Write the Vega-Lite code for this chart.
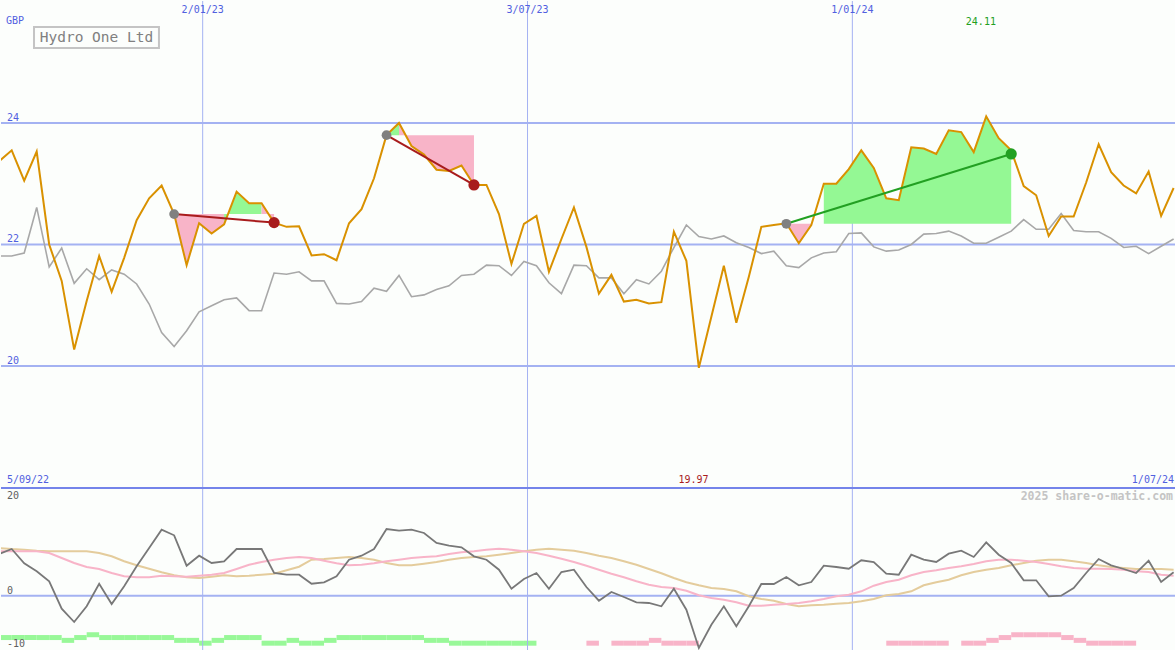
{
  "$schema": "https://vega.github.io/schema/vega-lite/v6.json",
  "padding": 0,
  "spacing": 0,
  "bounds": "flush",
  "background": "#fcfefc",
  "config": {"view": {"stroke": null}, "text": {"font": "DejaVu Sans Mono", "fontSize": 10}},
  "datasets": {
    "w": [
      {"d":"2022-09-10","p":23.37,"c":21.81,"m":8.34,"s":8.88,"l":9.54},
      {"d":"2022-09-17","p":23.55,"c":21.81,"m":9.34,"s":8.88,"l":9.34},
      {"d":"2022-09-24","p":23.05,"c":21.86,"m":6.48,"s":8.88,"l":9.2},
      {"d":"2022-10-01","p":23.53,"c":22.61,"m":4.88,"s":8.88,"l":9.0},
      {"d":"2022-10-08","p":22.00,"c":21.63,"m":2.88,"s":8.54,"l":8.88},
      {"d":"2022-10-15","p":21.40,"c":21.94,"m":-2.6,"s":7.54,"l":8.88},
      {"d":"2022-10-22","p":20.27,"c":21.36,"m":-5.26,"s":6.54,"l":8.88},
      {"d":"2022-10-29","p":21.07,"c":21.60,"m":-2.12,"s":5.74,"l":8.88},
      {"d":"2022-11-05","p":21.81,"c":21.42,"m":2.4,"s":5.34,"l":8.54},
      {"d":"2022-11-12","p":21.22,"c":21.58,"m":-1.66,"s":4.54,"l":7.88},
      {"d":"2022-11-19","p":21.78,"c":21.51,"m":1.88,"s":3.88,"l":6.88},
      {"d":"2022-11-26","p":22.40,"c":21.35,"m":5.88,"s":3.68,"l":6.08},
      {"d":"2022-12-03","p":22.76,"c":21.02,"m":9.54,"s":3.68,"l":5.4},
      {"d":"2022-12-10","p":22.97,"c":20.55,"m":13.2,"s":4.0,"l":4.68},
      {"d":"2022-12-17","p":22.50,"c":20.32,"m":12.08,"s":3.88,"l":4.08},
      {"d":"2022-12-24","p":21.66,"c":20.58,"m":6.0,"s":3.8,"l":3.68},
      {"d":"2022-12-31","p":22.35,"c":20.89,"m":8.0,"s":4.0,"l":3.54},
      {"d":"2023-01-07","p":22.18,"c":20.99,"m":6.54,"s":4.2,"l":3.8},
      {"d":"2023-01-14","p":22.33,"c":21.09,"m":6.88,"s":4.54,"l":4.08},
      {"d":"2023-01-21","p":22.87,"c":21.12,"m":9.34,"s":5.34,"l":3.88},
      {"d":"2023-01-28","p":22.68,"c":20.91,"m":9.34,"s":6.2,"l":4.0},
      {"d":"2023-02-04","p":22.68,"c":20.91,"m":9.34,"s":6.74,"l":4.2},
      {"d":"2023-02-11","p":22.36,"c":21.53,"m":4.54,"s":7.2,"l":4.4},
      {"d":"2023-02-18","p":22.29,"c":21.51,"m":4.2,"s":7.54,"l":5.08},
      {"d":"2023-02-25","p":22.30,"c":21.55,"m":4.2,"s":7.74,"l":5.8},
      {"d":"2023-03-04","p":21.82,"c":21.40,"m":2.4,"s":7.54,"l":7.2},
      {"d":"2023-03-11","p":21.84,"c":21.40,"m":2.68,"s":7.0,"l":7.34},
      {"d":"2023-03-18","p":21.74,"c":21.03,"m":3.88,"s":6.48,"l":7.54},
      {"d":"2023-03-25","p":22.35,"c":21.02,"m":7.2,"s":6.08,"l":7.74},
      {"d":"2023-04-01","p":22.58,"c":21.06,"m":8.0,"s":6.2,"l":7.54},
      {"d":"2023-04-08","p":23.09,"c":21.28,"m":9.34,"s":6.48,"l":7.2},
      {"d":"2023-04-15","p":23.80,"c":21.23,"m":13.34,"s":6.88,"l":6.54},
      {"d":"2023-04-22","p":24.00,"c":21.49,"m":13.0,"s":7.2,"l":6.08},
      {"d":"2023-04-29","p":23.62,"c":21.14,"m":13.2,"s":7.54,"l":6.08},
      {"d":"2023-05-06","p":23.48,"c":21.17,"m":12.54,"s":7.74,"l":6.4},
      {"d":"2023-05-13","p":23.23,"c":21.26,"m":10.54,"s":7.88,"l":6.74},
      {"d":"2023-05-20","p":23.21,"c":21.32,"m":10.0,"s":8.34,"l":7.2},
      {"d":"2023-05-27","p":23.30,"c":21.49,"m":9.68,"s":8.68,"l":7.54},
      {"d":"2023-06-03","p":22.98,"c":21.51,"m":7.88,"s":8.88,"l":7.74},
      {"d":"2023-06-10","p":22.98,"c":21.66,"m":7.2,"s":9.2,"l":7.88},
      {"d":"2023-06-17","p":22.50,"c":21.65,"m":5.2,"s":9.4,"l":8.2},
      {"d":"2023-06-24","p":21.68,"c":21.49,"m":1.4,"s":9.2,"l":8.54},
      {"d":"2023-07-01","p":22.34,"c":21.72,"m":3.34,"s":8.88,"l":8.88},
      {"d":"2023-07-08","p":22.47,"c":21.65,"m":4.54,"s":8.54,"l":9.2},
      {"d":"2023-07-15","p":21.55,"c":21.37,"m":1.4,"s":8.0,"l":9.4},
      {"d":"2023-07-22","p":22.09,"c":21.19,"m":4.74,"s":7.4,"l":9.2},
      {"d":"2023-07-29","p":22.61,"c":21.66,"m":5.2,"s":6.74,"l":9.0},
      {"d":"2023-08-05","p":21.96,"c":21.65,"m":1.74,"s":6.0,"l":8.54},
      {"d":"2023-08-12","p":21.19,"c":21.45,"m":-1.0,"s":5.2,"l":8.0},
      {"d":"2023-08-19","p":21.50,"c":21.45,"m":0.74,"s":4.4,"l":7.54},
      {"d":"2023-08-26","p":21.06,"c":21.19,"m":-0.26,"s":3.68,"l":6.88},
      {"d":"2023-09-02","p":21.09,"c":21.42,"m":-1.32,"s":2.88,"l":6.2},
      {"d":"2023-09-09","p":21.03,"c":21.35,"m":-1.46,"s":2.2,"l":5.34},
      {"d":"2023-09-16","p":21.05,"c":21.56,"m":-2.12,"s":1.74,"l":4.48},
      {"d":"2023-09-23","p":22.21,"c":21.95,"m":1.4,"s":1.54,"l":3.54},
      {"d":"2023-09-30","p":21.73,"c":22.32,"m":-2.8,"s":1.0,"l":2.68},
      {"d":"2023-10-07","p":19.97,"c":22.13,"m":-10.46,"s":0.08,"l":2.08},
      {"d":"2023-10-14","p":20.81,"c":22.09,"m":-5.8,"s":-0.46,"l":1.54},
      {"d":"2023-10-21","p":21.65,"c":22.14,"m":-2.12,"s":-0.8,"l":1.34},
      {"d":"2023-10-28","p":20.71,"c":22.03,"m":-6.12,"s":-1.32,"l":0.88},
      {"d":"2023-11-04","p":21.47,"c":21.95,"m":-2.12,"s":-2.0,"l":-0.12},
      {"d":"2023-11-11","p":22.29,"c":21.85,"m":2.34,"s":-2.0,"l":-0.66},
      {"d":"2023-11-18","p":22.32,"c":21.89,"m":2.34,"s":-1.8,"l":-1.0},
      {"d":"2023-11-25","p":22.35,"c":21.65,"m":3.74,"s":-1.66,"l":-1.66},
      {"d":"2023-12-02","p":22.02,"c":21.62,"m":2.08,"s":-1.46,"l":-2.12},
      {"d":"2023-12-09","p":22.32,"c":21.78,"m":2.74,"s":-1.12,"l":-1.92},
      {"d":"2023-12-16","p":23.00,"c":21.86,"m":6.0,"s":-0.66,"l":-1.8},
      {"d":"2023-12-23","p":23.00,"c":21.88,"m":5.74,"s":-0.12,"l":-1.6},
      {"d":"2023-12-30","p":23.24,"c":22.18,"m":5.4,"s":0.2,"l":-1.46},
      {"d":"2024-01-06","p":23.55,"c":22.19,"m":7.08,"s":0.88,"l":-1.12},
      {"d":"2024-01-13","p":23.26,"c":21.96,"m":6.74,"s":2.0,"l":-0.66},
      {"d":"2024-01-20","p":22.76,"c":21.89,"m":4.4,"s":2.74,"l":0.08},
      {"d":"2024-01-27","p":22.73,"c":21.91,"m":4.2,"s":3.2,"l":0.34},
      {"d":"2024-02-03","p":23.60,"c":22.00,"m":8.2,"s":4.08,"l":0.88},
      {"d":"2024-02-10","p":23.58,"c":22.17,"m":7.2,"s":4.74,"l":2.08},
      {"d":"2024-02-17","p":23.49,"c":22.18,"m":6.74,"s":5.08,"l":2.68},
      {"d":"2024-02-24","p":23.88,"c":22.22,"m":8.4,"s":5.54,"l":3.2},
      {"d":"2024-03-02","p":23.85,"c":22.14,"m":9.0,"s":5.88,"l":4.08},
      {"d":"2024-03-09","p":23.52,"c":22.02,"m":7.74,"s":6.34,"l":4.74},
      {"d":"2024-03-16","p":24.11,"c":22.02,"m":10.68,"s":6.88,"l":5.2},
      {"d":"2024-03-23","p":23.75,"c":22.12,"m":8.2,"s":7.2,"l":5.54},
      {"d":"2024-03-30","p":23.55,"c":22.22,"m":6.54,"s":7.2,"l":6.08},
      {"d":"2024-04-06","p":22.96,"c":22.41,"m":3.08,"s":7.0,"l":6.54},
      {"d":"2024-04-13","p":22.81,"c":22.25,"m":3.08,"s":6.74,"l":7.0},
      {"d":"2024-04-20","p":22.14,"c":22.25,"m":-0.12,"s":6.34,"l":7.2},
      {"d":"2024-04-27","p":22.46,"c":22.51,"m":0.0,"s":5.88,"l":7.2},
      {"d":"2024-05-04","p":22.46,"c":22.23,"m":1.54,"s":5.54,"l":6.88},
      {"d":"2024-05-11","p":23.02,"c":22.21,"m":4.54,"s":5.4,"l":6.54},
      {"d":"2024-05-18","p":23.65,"c":22.21,"m":7.34,"s":5.4,"l":6.08},
      {"d":"2024-05-25","p":23.19,"c":22.10,"m":6.08,"s":5.34,"l":5.74},
      {"d":"2024-06-01","p":22.97,"c":21.95,"m":5.34,"s":5.2,"l":5.54},
      {"d":"2024-06-08","p":22.84,"c":21.97,"m":4.54,"s":4.88,"l":5.34},
      {"d":"2024-06-15","p":23.20,"c":21.85,"m":7.0,"s":4.74,"l":5.34},
      {"d":"2024-06-22","p":22.47,"c":21.97,"m":2.74,"s":4.2,"l":5.34},
      {"d":"2024-06-29","p":22.93,"c":22.09,"m":4.68,"s":4.0,"l":5.2}
    ],
    "h": [
      {"d":"2022-09-10","e":"2022-09-17","a":3,"dir":"up"},
      {"d":"2022-09-17","e":"2022-09-24","a":3,"dir":"up"},
      {"d":"2022-09-24","e":"2022-10-01","a":3,"dir":"up"},
      {"d":"2022-10-01","e":"2022-10-08","a":3,"dir":"up"},
      {"d":"2022-10-08","e":"2022-10-15","a":3,"dir":"up"},
      {"d":"2022-10-15","e":"2022-10-22","a":2,"dir":"up"},
      {"d":"2022-10-22","e":"2022-10-29","a":3,"dir":"up"},
      {"d":"2022-10-29","e":"2022-11-05","a":4,"dir":"up"},
      {"d":"2022-11-05","e":"2022-11-12","a":3,"dir":"up"},
      {"d":"2022-11-12","e":"2022-11-19","a":3,"dir":"up"},
      {"d":"2022-11-19","e":"2022-11-26","a":3,"dir":"up"},
      {"d":"2022-11-26","e":"2022-12-03","a":3,"dir":"up"},
      {"d":"2022-12-03","e":"2022-12-10","a":3,"dir":"up"},
      {"d":"2022-12-10","e":"2022-12-17","a":3,"dir":"up"},
      {"d":"2022-12-17","e":"2022-12-24","a":2,"dir":"up"},
      {"d":"2022-12-24","e":"2022-12-31","a":2,"dir":"up"},
      {"d":"2022-12-31","e":"2023-01-07","a":1,"dir":"up"},
      {"d":"2023-01-07","e":"2023-01-14","a":2,"dir":"up"},
      {"d":"2023-01-14","e":"2023-01-21","a":3,"dir":"up"},
      {"d":"2023-01-21","e":"2023-01-28","a":3,"dir":"up"},
      {"d":"2023-01-28","e":"2023-02-04","a":3,"dir":"up"},
      {"d":"2023-02-04","e":"2023-02-11","a":1,"dir":"up"},
      {"d":"2023-02-11","e":"2023-02-18","a":1,"dir":"up"},
      {"d":"2023-02-18","e":"2023-02-25","a":2,"dir":"up"},
      {"d":"2023-02-25","e":"2023-03-04","a":1,"dir":"up"},
      {"d":"2023-03-04","e":"2023-03-11","a":1,"dir":"up"},
      {"d":"2023-03-11","e":"2023-03-18","a":2,"dir":"up"},
      {"d":"2023-03-18","e":"2023-03-25","a":3,"dir":"up"},
      {"d":"2023-03-25","e":"2023-04-01","a":3,"dir":"up"},
      {"d":"2023-04-01","e":"2023-04-08","a":3,"dir":"up"},
      {"d":"2023-04-08","e":"2023-04-15","a":3,"dir":"up"},
      {"d":"2023-04-15","e":"2023-04-22","a":3,"dir":"up"},
      {"d":"2023-04-22","e":"2023-04-29","a":3,"dir":"up"},
      {"d":"2023-04-29","e":"2023-05-06","a":3,"dir":"up"},
      {"d":"2023-05-06","e":"2023-05-13","a":2,"dir":"up"},
      {"d":"2023-05-13","e":"2023-05-20","a":2,"dir":"up"},
      {"d":"2023-05-20","e":"2023-05-27","a":1,"dir":"up"},
      {"d":"2023-05-27","e":"2023-06-03","a":1,"dir":"up"},
      {"d":"2023-06-03","e":"2023-06-10","a":1,"dir":"up"},
      {"d":"2023-06-10","e":"2023-06-17","a":1,"dir":"up"},
      {"d":"2023-06-17","e":"2023-06-24","a":1,"dir":"up"},
      {"d":"2023-06-24","e":"2023-07-01","a":1,"dir":"up"},
      {"d":"2023-07-01","e":"2023-07-08","a":1,"dir":"up"},
      {"d":"2023-08-05","e":"2023-08-12","a":1,"dir":"dn"},
      {"d":"2023-08-19","e":"2023-08-26","a":1,"dir":"dn"},
      {"d":"2023-08-26","e":"2023-09-02","a":1,"dir":"dn"},
      {"d":"2023-09-02","e":"2023-09-09","a":1,"dir":"dn"},
      {"d":"2023-09-09","e":"2023-09-16","a":2,"dir":"dn"},
      {"d":"2023-09-16","e":"2023-09-23","a":1,"dir":"dn"},
      {"d":"2023-09-23","e":"2023-09-30","a":1,"dir":"dn"},
      {"d":"2023-09-30","e":"2023-10-07","a":1,"dir":"dn"},
      {"d":"2024-01-20","e":"2024-01-27","a":1,"dir":"dn"},
      {"d":"2024-01-27","e":"2024-02-03","a":1,"dir":"dn"},
      {"d":"2024-02-03","e":"2024-02-10","a":1,"dir":"dn"},
      {"d":"2024-02-10","e":"2024-02-17","a":1,"dir":"dn"},
      {"d":"2024-02-17","e":"2024-02-24","a":1,"dir":"dn"},
      {"d":"2024-03-02","e":"2024-03-09","a":1,"dir":"dn"},
      {"d":"2024-03-09","e":"2024-03-16","a":1,"dir":"dn"},
      {"d":"2024-03-16","e":"2024-03-23","a":2,"dir":"dn"},
      {"d":"2024-03-23","e":"2024-03-30","a":3,"dir":"dn"},
      {"d":"2024-03-30","e":"2024-04-06","a":4,"dir":"dn"},
      {"d":"2024-04-06","e":"2024-04-13","a":4,"dir":"dn"},
      {"d":"2024-04-13","e":"2024-04-20","a":4,"dir":"dn"},
      {"d":"2024-04-20","e":"2024-04-27","a":4,"dir":"dn"},
      {"d":"2024-04-27","e":"2024-05-04","a":3,"dir":"dn"},
      {"d":"2024-05-04","e":"2024-05-11","a":2,"dir":"dn"},
      {"d":"2024-05-11","e":"2024-05-18","a":1,"dir":"dn"},
      {"d":"2024-05-18","e":"2024-05-25","a":1,"dir":"dn"},
      {"d":"2024-05-25","e":"2024-06-01","a":1,"dir":"dn"},
      {"d":"2024-06-01","e":"2024-06-08","a":1,"dir":"dn"}
    ],
    "f": [
      {"g":"S1","c":"dn","d":"2022-12-17","p":22.50,"e":22.50},
      {"g":"S1","c":"dn","d":"2022-12-24","p":21.66,"e":22.50},
      {"g":"S1","c":"dn","d":"2022-12-31","p":22.35,"e":22.50},
      {"g":"S1","c":"dn","d":"2023-01-07","p":22.18,"e":22.50},
      {"g":"S1","c":"dn","d":"2023-01-14","p":22.33,"e":22.50},
      {"g":"S2","c":"up","d":"2023-01-14","p":22.33,"e":22.50},
      {"g":"S2","c":"up","d":"2023-01-21","p":22.87,"e":22.50},
      {"g":"S2","c":"up","d":"2023-01-28","p":22.68,"e":22.50},
      {"g":"S2","c":"up","d":"2023-02-04","p":22.68,"e":22.50},
      {"g":"S3","c":"dn","d":"2023-02-04","p":22.68,"e":22.50},
      {"g":"S3","c":"dn","d":"2023-02-11","p":22.36,"e":22.50},
      {"g":"S4","c":"up","d":"2023-04-15","p":23.80,"e":23.80},
      {"g":"S4","c":"up","d":"2023-04-22","p":24.00,"e":23.80},
      {"g":"S5","c":"dn","d":"2023-04-22","p":24.00,"e":23.80},
      {"g":"S5","c":"dn","d":"2023-04-29","p":23.62,"e":23.80},
      {"g":"S5","c":"dn","d":"2023-05-06","p":23.48,"e":23.80},
      {"g":"S5","c":"dn","d":"2023-05-13","p":23.23,"e":23.80},
      {"g":"S5","c":"dn","d":"2023-05-20","p":23.21,"e":23.80},
      {"g":"S5","c":"dn","d":"2023-05-27","p":23.30,"e":23.80},
      {"g":"S5","c":"dn","d":"2023-06-03","p":22.98,"e":23.80},
      {"g":"S6","c":"dn","d":"2023-11-25","p":22.35,"e":22.34},
      {"g":"S6","c":"dn","d":"2023-12-02","p":22.02,"e":22.34},
      {"g":"S6","c":"dn","d":"2023-12-09","p":22.32,"e":22.34},
      {"g":"S7","c":"up","d":"2023-12-16","p":23.00,"e":22.34},
      {"g":"S7","c":"up","d":"2023-12-23","p":23.00,"e":22.34},
      {"g":"S7","c":"up","d":"2023-12-30","p":23.24,"e":22.34},
      {"g":"S7","c":"up","d":"2024-01-06","p":23.55,"e":22.34},
      {"g":"S7","c":"up","d":"2024-01-13","p":23.26,"e":22.34},
      {"g":"S7","c":"up","d":"2024-01-20","p":22.76,"e":22.34},
      {"g":"S7","c":"up","d":"2024-01-27","p":22.73,"e":22.34},
      {"g":"S7","c":"up","d":"2024-02-03","p":23.60,"e":22.34},
      {"g":"S7","c":"up","d":"2024-02-10","p":23.58,"e":22.34},
      {"g":"S7","c":"up","d":"2024-02-17","p":23.49,"e":22.34},
      {"g":"S7","c":"up","d":"2024-02-24","p":23.88,"e":22.34},
      {"g":"S7","c":"up","d":"2024-03-02","p":23.85,"e":22.34},
      {"g":"S7","c":"up","d":"2024-03-09","p":23.52,"e":22.34},
      {"g":"S7","c":"up","d":"2024-03-16","p":24.11,"e":22.34},
      {"g":"S7","c":"up","d":"2024-03-23","p":23.75,"e":22.34},
      {"g":"S7","c":"up","d":"2024-03-30","p":23.55,"e":22.34}
    ],
    "t": [
      {"g":"T1","c":"loss","d":"2022-12-17","v":22.50},
      {"g":"T1","c":"loss","d":"2023-02-11","v":22.36},
      {"g":"T2","c":"loss","d":"2023-04-15","v":23.80},
      {"g":"T2","c":"loss","d":"2023-06-03","v":22.98},
      {"g":"T3","c":"win","d":"2023-11-25","v":22.34},
      {"g":"T3","c":"win","d":"2024-03-30","v":23.49}
    ],
    "vl": [
      {"d":"2023-01-02","t":"2/01/23"},
      {"d":"2023-07-03","t":"3/07/23"},
      {"d":"2024-01-01","t":"1/01/24"}
    ],
    "hl": [{"v":24,"t":"24"},{"v":22,"t":"22"},{"v":20,"t":"20"}],
    "one": [{}]
  },
  "vconcat": [
    {
      "width": 1175,
      "height": 487,
      "resolve": {"scale": {"color": "independent"}},
      "layer": [
        {
          "data": {"name": "vl"},
          "mark": {"type": "rule", "color": "#a4b2f2", "strokeWidth": 1},
          "encoding": {
            "x": {"field": "d", "type": "temporal", "axis": null,
                  "scale": {"type": "utc", "domain": [{"year": 2022, "month": 9, "date": 11, "utc": true}, {"year": 2024, "month": 6, "date": 30, "hours": 8, "utc": true}]}}
          }
        },
        {
          "data": {"name": "hl"},
          "mark": {"type": "rule", "color": "#a4b2f2", "strokeWidth": 2},
          "encoding": {
            "y": {"field": "v", "type": "quantitative", "axis": null,
                  "scale": {"domain": [17.991, 26.008], "nice": false, "zero": false}}
          }
        },
        {
          "data": {"name": "f"},
          "mark": {"type": "area", "opacity": 1, "interpolate": "linear", "clip": true},
          "encoding": {
            "x": {"field": "d", "type": "temporal"},
            "y": {"field": "p", "type": "quantitative"},
            "y2": {"field": "e"},
            "detail": {"field": "g"},
            "color": {"field": "c", "type": "nominal", "legend": null,
                      "scale": {"domain": ["up", "dn"], "range": ["#94f894", "#f8b4c8"]}}
          }
        },
        {
          "data": {"name": "w"},
          "mark": {"type": "line", "color": "#a8a8a8", "strokeWidth": 1.6, "clip": true},
          "encoding": {
            "x": {"field": "d", "type": "temporal"},
            "y": {"field": "c", "type": "quantitative"}
          }
        },
        {
          "data": {"name": "w"},
          "mark": {"type": "line", "color": "#d99100", "strokeWidth": 2, "clip": true},
          "encoding": {
            "x": {"field": "d", "type": "temporal"},
            "y": {"field": "p", "type": "quantitative"}
          }
        },
        {
          "data": {"name": "t"},
          "mark": {"type": "line", "strokeWidth": 2},
          "encoding": {
            "x": {"field": "d", "type": "temporal"},
            "y": {"field": "v", "type": "quantitative"},
            "detail": {"field": "g"},
            "color": {"field": "c", "type": "nominal", "legend": null,
                      "scale": {"domain": ["loss", "win"], "range": ["#a81c1c", "#22a022"]}}
          }
        },
        {
          "data": {"name": "t"},
          "transform": [{"window": [{"op": "row_number", "as": "rn"}], "groupby": ["g"]}, {"filter": "datum.rn == 1"}],
          "mark": {"type": "point", "filled": true, "opacity": 1, "size": 95, "color": "#808080"},
          "encoding": {
            "x": {"field": "d", "type": "temporal"},
            "y": {"field": "v", "type": "quantitative"}
          }
        },
        {
          "data": {"name": "t"},
          "transform": [{"window": [{"op": "row_number", "as": "rn"}], "groupby": ["g"]}, {"filter": "datum.rn == 2"}],
          "mark": {"type": "point", "filled": true, "opacity": 1, "size": 125},
          "encoding": {
            "x": {"field": "d", "type": "temporal"},
            "y": {"field": "v", "type": "quantitative"},
            "color": {"field": "c", "type": "nominal", "legend": null,
                      "scale": {"domain": ["loss", "win"], "range": ["#a81c1c", "#22a022"]}}
          }
        },
        {
          "data": {"name": "hl"},
          "mark": {"type": "text", "align": "left", "baseline": "alphabetic", "dx": 6, "dy": -2, "color": "#5060e0"},
          "encoding": {
            "x": {"datum": {"year": 2022, "month": 9, "date": 11, "utc": true}, "type": "temporal"},
            "y": {"field": "v", "type": "quantitative"},
            "text": {"field": "t"}
          }
        },
        {
          "data": {"name": "vl"},
          "mark": {"type": "text", "align": "center", "baseline": "middle", "color": "#5060e0"},
          "encoding": {
            "x": {"field": "d", "type": "temporal"},
            "y": {"datum": 25.86, "type": "quantitative"},
            "text": {"field": "t"}
          }
        },
        {
          "data": {"name": "one"},
          "mark": {"type": "text", "align": "left", "baseline": "middle", "dx": 5, "color": "#5060e0", "text": "GBP"},
          "encoding": {
            "x": {"datum": {"year": 2022, "month": 9, "date": 11, "utc": true}, "type": "temporal"},
            "y": {"datum": 25.68, "type": "quantitative"}
          }
        },
        {
          "data": {"name": "one"},
          "mark": {"type": "rect", "fill": null, "fillOpacity": 0, "stroke": "#c4c4c4", "strokeWidth": 2},
          "encoding": {
            "x": {"datum": {"year": 2022, "month": 9, "date": 29, "hours": 12, "utc": true}, "type": "temporal"},
            "x2": {"datum": {"year": 2022, "month": 12, "date": 8, "hours": 12, "utc": true}},
            "y": {"datum": 25.58, "type": "quantitative"},
            "y2": {"datum": 25.234}
          }
        },
        {
          "data": {"name": "one"},
          "mark": {"type": "text", "align": "center", "baseline": "middle", "fontSize": 14.5, "color": "#808080", "text": "Hydro One Ltd"},
          "encoding": {
            "x": {"datum": {"year": 2022, "month": 11, "date": 3, "hours": 12, "utc": true}, "type": "temporal"},
            "y": {"datum": 25.405, "type": "quantitative"}
          }
        },
        {
          "data": {"name": "one"},
          "mark": {"type": "text", "align": "center", "baseline": "middle", "color": "#22a022", "text": "24.11"},
          "encoding": {
            "x": {"datum": {"year": 2024, "month": 3, "date": 13, "utc": true}, "type": "temporal"},
            "y": {"datum": 25.657, "type": "quantitative"}
          }
        },
        {
          "data": {"name": "one"},
          "mark": {"type": "text", "align": "left", "baseline": "middle", "dx": 6, "color": "#5060e0", "text": "5/09/22"},
          "encoding": {
            "x": {"datum": {"year": 2022, "month": 9, "date": 11, "utc": true}, "type": "temporal"},
            "y": {"datum": 18.12, "type": "quantitative"}
          }
        },
        {
          "data": {"name": "one"},
          "mark": {"type": "text", "align": "center", "baseline": "middle", "color": "#a81c1c", "text": "19.97"},
          "encoding": {
            "x": {"datum": {"year": 2023, "month": 10, "date": 4, "utc": true}, "type": "temporal"},
            "y": {"datum": 18.12, "type": "quantitative"}
          }
        },
        {
          "data": {"name": "one"},
          "mark": {"type": "text", "align": "right", "baseline": "middle", "dx": -2, "color": "#5060e0", "text": "1/07/24"},
          "encoding": {
            "x": {"datum": {"year": 2024, "month": 6, "date": 30, "hours": 8, "utc": true}, "type": "temporal"},
            "y": {"datum": 18.12, "type": "quantitative"}
          }
        }
      ]
    },
    {
      "width": 1175,
      "height": 163,
      "resolve": {"scale": {"y": "independent", "color": "independent"}},
      "layer": [
        {
          "data": {"name": "h"},
          "mark": {"type": "bar", "clip": true},
          "encoding": {
            "x": {"field": "d", "type": "temporal", "axis": null,
                  "scale": {"type": "utc", "domain": [{"year": 2022, "month": 9, "date": 11, "utc": true}, {"year": 2024, "month": 6, "date": 30, "hours": 8, "utc": true}]}},
            "x2": {"field": "e"},
            "y": {"field": "a", "type": "quantitative", "axis": null, "scale": {"domain": [0, 54.33], "nice": false}},
            "color": {"field": "dir", "type": "nominal", "legend": null,
                      "scale": {"domain": ["up", "dn"], "range": ["#98f898", "#f8b4c8"]}}
          }
        },
        {
          "data": {"name": "vl"},
          "mark": {"type": "rule", "color": "#a4b2f2", "strokeWidth": 1},
          "encoding": {"x": {"field": "d", "type": "temporal"}}
        },
        {
          "data": {"name": "one"},
          "mark": {"type": "rule", "color": "#a4b2f2", "strokeWidth": 2},
          "encoding": {
            "y": {"datum": 0, "type": "quantitative", "axis": null, "scale": {"domain": [-11.06, 21.54], "nice": false, "zero": false}}
          }
        },
        {
          "data": {"name": "w"},
          "mark": {"type": "line", "color": "#e4cc9c", "strokeWidth": 2, "clip": true},
          "encoding": {
            "x": {"field": "d", "type": "temporal"},
            "y": {"field": "l", "type": "quantitative", "axis": null, "scale": {"domain": [-11.06, 21.54], "nice": false, "zero": false}}
          }
        },
        {
          "data": {"name": "w"},
          "mark": {"type": "line", "color": "#f8b4c8", "strokeWidth": 2, "clip": true},
          "encoding": {
            "x": {"field": "d", "type": "temporal"},
            "y": {"field": "s", "type": "quantitative", "axis": null, "scale": {"domain": [-11.06, 21.54], "nice": false, "zero": false}}
          }
        },
        {
          "data": {"name": "w"},
          "mark": {"type": "line", "color": "#787878", "strokeWidth": 1.8, "clip": true},
          "encoding": {
            "x": {"field": "d", "type": "temporal"},
            "y": {"field": "m", "type": "quantitative", "axis": null, "scale": {"domain": [-11.06, 21.54], "nice": false, "zero": false}}
          }
        },
        {
          "data": {"name": "one"},
          "mark": {"type": "rule", "color": "#7484ea", "strokeWidth": 2},
          "encoding": {
            "y": {"datum": 21.54, "type": "quantitative", "axis": null, "scale": {"domain": [-11.06, 21.54], "nice": false, "zero": false}}
          }
        },
        {
          "data": {"name": "one"},
          "mark": {"type": "text", "align": "left", "baseline": "middle", "dx": 6, "color": "#606060", "text": "20"},
          "encoding": {
            "x": {"datum": {"year": 2022, "month": 9, "date": 11, "utc": true}, "type": "temporal"},
            "y": {"datum": 20, "type": "quantitative", "axis": null, "scale": {"domain": [-11.06, 21.54], "nice": false, "zero": false}}
          }
        },
        {
          "data": {"name": "one"},
          "mark": {"type": "text", "align": "left", "baseline": "alphabetic", "dx": 6, "dy": -2, "color": "#606060", "text": "0"},
          "encoding": {
            "x": {"datum": {"year": 2022, "month": 9, "date": 11, "utc": true}, "type": "temporal"},
            "y": {"datum": 0, "type": "quantitative", "axis": null, "scale": {"domain": [-11.06, 21.54], "nice": false, "zero": false}}
          }
        },
        {
          "data": {"name": "one"},
          "mark": {"type": "text", "align": "left", "baseline": "alphabetic", "dx": 6, "dy": 1, "color": "#606060", "text": "-10"},
          "encoding": {
            "x": {"datum": {"year": 2022, "month": 9, "date": 11, "utc": true}, "type": "temporal"},
            "y": {"datum": -10, "type": "quantitative", "axis": null, "scale": {"domain": [-11.06, 21.54], "nice": false, "zero": false}}
          }
        },
        {
          "data": {"name": "one"},
          "mark": {"type": "text", "align": "right", "baseline": "middle", "dx": -3, "color": "#c4c4c4", "fontSize": 11.5, "fontWeight": "bold", "text": "2025 share-o-matic.com"},
          "encoding": {
            "x": {"datum": {"year": 2024, "month": 6, "date": 30, "hours": 8, "utc": true}, "type": "temporal"},
            "y": {"datum": 19.8, "type": "quantitative", "axis": null, "scale": {"domain": [-11.06, 21.54], "nice": false, "zero": false}}
          }
        }
      ]
    }
  ]
}
